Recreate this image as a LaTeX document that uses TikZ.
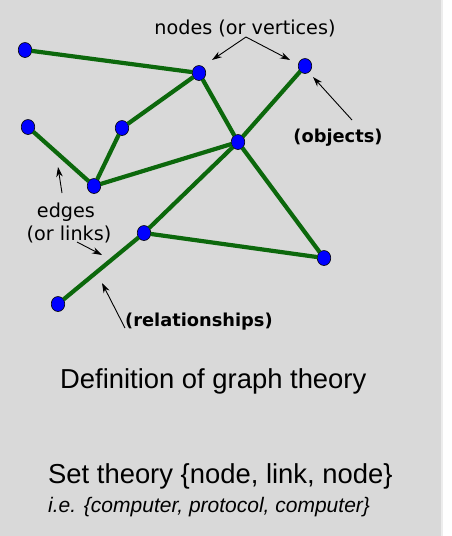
\documentclass[tikz,border=0pt]{standalone}
\usepackage{fontspec}
\setmainfont{Liberation Sans}
\newfontfamily\vfont{DejaVu Sans}
\usepackage{xcolor}
\usepackage{tkz-graph}
\usetikzlibrary{shapes.geometric,arrows.meta}
\definecolor{bggray}{RGB}{217,217,217}
\definecolor{linkgreen}{RGB}{12,104,12}
\definecolor{nodeblue}{RGB}{0,0,255}

\begin{document}
\begin{tikzpicture}[x=1pt,y=-1pt,
    vlabel/.style={inner sep=0pt, font=\vfont\fontsize{19.2}{22}\selectfont},
    vbold/.style={inner sep=0pt, font=\vfont\bfseries\fontsize{17.8}{21}\selectfont},
    maintxt/.style={inner sep=0pt, font=\fontsize{27.4}{32}\selectfont},
    subtxt/.style={inner sep=0pt, font=\itshape\fontsize{21}{25}\selectfont},
    pointer/.style={-{Stealth[length=10pt,width=6.5pt]}, line width=0.9pt}]
    \useasboundingbox (0,0) rectangle (451,536);
    \fill[bggray] (0,0) rectangle (441,536);
    \fill[black!7] (441,0) rectangle (443,536);
    \tikzset{VertexStyle/.style={draw=black, fill=nodeblue, ellipse,
        minimum width=13.5pt, minimum height=15pt, inner sep=0pt, line width=0.6pt}}
    \tikzset{EdgeStyle/.style={line width=4.2pt, draw=linkgreen}}
        \Vertex[x=25, y=50, NoLabel]{a}
        \Vertex[x=199, y=73, NoLabel]{b}
        \Vertex[x=305, y=66, NoLabel]{c}
        \Vertex[x=28, y=127, NoLabel]{d}
        \Vertex[x=122, y=128, NoLabel]{e}
        \Vertex[x=238, y=142, NoLabel]{f}
        \Vertex[x=94, y=186, NoLabel]{g}
        \Vertex[x=144, y=233, NoLabel]{h}
        \Vertex[x=324, y=258, NoLabel]{i}
        \Vertex[x=58, y=304, NoLabel]{j}
        \Edge(a)(b)
        \Edge(b)(e)
        \Edge(e)(g)
        \Edge(d)(g)
        \Edge(g)(f)
        \Edge(b)(f)
        \Edge(f)(c)
        \Edge(f)(h)
        \Edge(f)(i)
        \Edge(h)(i)
        \Edge(h)(j)
    % labels
    \node[vlabel, anchor=base] (nodestxt) at (245,34) {nodes (or vertices)};
    \node[vbold, anchor=base] (objtxt) at (338,142) {(objects)};
    \node[vlabel, anchor=base] (edgetxt) at (66,217) {edges};
    \node[vlabel, anchor=base] (ortxt) at (69,240) {(or links)};
    \node[vbold, anchor=base west] (reltxt) at (125,326) {(relationships)};
    \node[maintxt, anchor=base west] (deftxt) at (60,388) {Definition of graph theory};
    \node[maintxt, anchor=base west] (settxt) at (48,483) {Set theory \{node, link, node\}};
    \node[subtxt, anchor=base west] (ietxt) at (48,512) {i.e. \{computer, protocol, computer\}};
    % pointers
    \coordinate (nsplit) at (246,37);
    \coordinate (tipb) at (212,60);
    \coordinate (tipc) at (290,60);
    \coordinate (objfoot) at (352,120);
    \coordinate (tipobj) at (313,77);
    \coordinate (edgefoot) at (62,193);
    \coordinate (tipedge) at (58,167);
    \coordinate (linkfoot) at (77,242);
    \coordinate (tiplink) at (102,255);
    \coordinate (relfoot) at (125,328);
    \coordinate (tiprel) at (102,283);
    \draw[pointer] (nsplit) -- (tipb);
    \draw[pointer] (nsplit) -- (tipc);
    \draw[pointer] (objfoot) -- (tipobj);
    \draw[pointer] (edgefoot) -- (tipedge);
    \draw[pointer] (linkfoot) -- (tiplink);
    \draw[pointer] (relfoot) -- (tiprel);
\end{tikzpicture}
\end{document}
